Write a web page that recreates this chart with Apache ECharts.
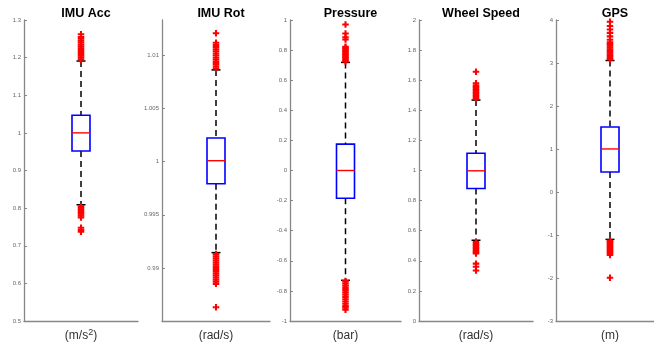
<!DOCTYPE html>
<html>
<head>
<meta charset="utf-8">
<script src="https://cdn.jsdelivr.net/npm/echarts@6/dist/echarts.min.js"></script>
<style>html,body{margin:0;padding:0;background:#fff}#c{width:654px;height:346px}</style>
</head>
<body>
<div id="c"></div>
<script>
// ---- data ----
const titles = ['IMU Acc', 'IMU Rot', 'Pressure', 'Wheel Speed', 'GPS'];
const units = ['(m/s{sup|2})', '(rad/s)', '(bar)', '(rad/s)', '(m)'];
const lowerWhisker = [0.809, 0.99144, -0.7295, 0.5366, -1.102];
const q1 = [0.952, 0.99793, -0.184, 0.880, 0.466];
const median = [1.000, 1.0001, 0.000, 0.998, 1.001];
const q3 = [1.047, 1.00223, 0.175, 1.115, 1.513];
const upperWhisker = [1.191, 1.00865, 0.7184, 1.468, 3.058];

const outliersAcc = [1.195, 1.200, 1.205, 1.210, 1.215, 1.220, 1.225, 1.230, 1.235, 1.240, 1.245, 1.250, 1.255, 1.262,
  0.805, 0.800, 0.795, 0.790, 0.785, 0.780, 0.775, 0.748, 0.742, 0.737];
const outliersRot = [1.0088, 1.0090, 1.0092, 1.0094, 1.0096, 1.0098, 1.0100, 1.0102, 1.0104, 1.0106, 1.0108, 1.0110, 1.0112, 1.0121,
  0.9913, 0.9911, 0.9909, 0.9907, 0.9905, 0.9903, 0.9901, 0.9899, 0.9897, 0.9895, 0.9893, 0.9891, 0.9889, 0.9887, 0.9885, 0.9863];
const outliersPressure = [0.725, 0.735, 0.745, 0.755, 0.765, 0.775, 0.785, 0.795, 0.805, 0.815, 0.822, 0.870, 0.885, 0.910, 0.970,
  -0.735, -0.750, -0.765, -0.780, -0.795, -0.810, -0.825, -0.840, -0.855, -0.870, -0.885, -0.900, -0.912, -0.925];
const outliersWheel = [1.475, 1.485, 1.495, 1.505, 1.515, 1.525, 1.535, 1.545, 1.555, 1.565, 1.579, 1.656,
  0.525, 0.515, 0.505, 0.495, 0.485, 0.475, 0.465, 0.455, 0.448, 0.381, 0.360, 0.335];
const outliersGps = [3.08, 3.12, 3.16, 3.20, 3.24, 3.28, 3.32, 3.36, 3.40, 3.44, 3.48, 3.54, 3.62, 3.70, 3.78, 3.86, 3.96,
  -1.13, -1.16, -1.19, -1.22, -1.25, -1.28, -1.31, -1.34, -1.37, -1.40, -1.43, -1.467, -1.994];
const outliers = [outliersAcc, outliersRot, outliersPressure, outliersWheel, outliersGps];

const yMin = [0.5, 0.985, -1, 0, -3];
const yMax = [1.3, 1.01335, 1, 2, 4];
const ticksAcc = [0.5, 0.6, 0.7, 0.8, 0.9, 1, 1.1, 1.2, 1.3];
const ticksRot = [0.99, 0.995, 1, 1.005, 1.01];
const ticksPressure = [-1, -0.8, -0.6, -0.4, -0.2, 0, 0.2, 0.4, 0.6, 0.8, 1];
const ticksWheel = [0, 0.2, 0.4, 0.6, 0.8, 1, 1.2, 1.4, 1.6, 1.8, 2];
const ticksGps = [-3, -2, -1, 0, 1, 2, 3, 4];
const tickSets = [ticksAcc, ticksRot, ticksPressure, ticksWheel, ticksGps];

// ---- layout ----
const gridLeft = [24, 162, 290, 419, 556];
const gridWidth = [114, 108, 111, 114, 108];

const chart = echarts.init(document.getElementById('c'), null, {renderer: 'canvas'});

const axisGray = '#878787';
const font = 'Liberation Sans, Arial, sans-serif';
const plusPath = 'path://M3.4,0L6.6,0L6.6,3.4L10,3.4L10,6.6L6.6,6.6L6.6,10L3.4,10L3.4,6.6L0,6.6L0,3.4L3.4,3.4Z';

function renderBox(params, api) {
  const x = api.value(0);
  const lo = api.coord([x, api.value(1)]);
  const b1 = api.coord([x, api.value(2)]);
  const md = api.coord([x, api.value(3)]);
  const b3 = api.coord([x, api.value(4)]);
  const hi = api.coord([x, api.value(5)]);
  const cx = lo[0];
  const hw = 9, cw = 4.5;
  const dash = {stroke: '#000', lineWidth: 1.5, lineDash: [6, 4], fill: null};
  const solid = {stroke: '#000', lineWidth: 1.5};
  return {
    type: 'group',
    children: [
      {type: 'line', shape: {x1: cx, y1: hi[1], x2: cx, y2: b3[1]}, style: dash},
      {type: 'line', shape: {x1: cx, y1: b1[1], x2: cx, y2: lo[1]}, style: dash},
      {type: 'line', shape: {x1: cx - cw, y1: hi[1], x2: cx + cw, y2: hi[1]}, style: solid},
      {type: 'line', shape: {x1: cx - cw, y1: lo[1], x2: cx + cw, y2: lo[1]}, style: solid},
      {type: 'rect', shape: {x: cx - hw, y: b3[1], width: 2 * hw, height: b1[1] - b3[1]},
        style: {stroke: '#0000ff', lineWidth: 1.6, fill: null}},
      {type: 'line', shape: {x1: cx - hw, y1: md[1], x2: cx + hw, y2: md[1]},
        style: {stroke: '#ff0000', lineWidth: 1.4}}
    ]
  };
}

const grids = [], xAxes = [], yAxes = [], series = [], titleList = [];
for (let i = 0; i < 5; i++) {
  grids.push({left: gridLeft[i], width: gridWidth[i], top: 20, bottom: 25, containLabel: false, outerBoundsMode: 'none'});
  titleList.push({
    text: titles[i], left: gridLeft[i] + gridWidth[i] / 2, top: 2, textAlign: 'center',
    textStyle: {fontFamily: font, fontSize: 12.5, fontWeight: 'bold', color: '#000'}
  });
  xAxes.push({
    type: 'category', gridIndex: i, data: [units[i]], boundaryGap: true,
    axisLine: {show: true, onZero: false, lineStyle: {color: axisGray, width: 1.3}},
    axisTick: {show: false},
    splitLine: {show: false},
    axisLabel: {
      margin: 6, fontSize: 12, lineHeight: 18, color: '#333', fontFamily: font,
      rich: {sup: {fontSize: 9, lineHeight: 18, padding: [0, 0, 7, 0], color: '#333', fontFamily: font}}
    }
  });
  yAxes.push({
    type: 'value', gridIndex: i, min: yMin[i], max: yMax[i],
    axisLine: {show: true, onZero: false, lineStyle: {color: axisGray, width: 1.3}},
    axisTick: {show: true, inside: true, length: 3, customValues: tickSets[i], lineStyle: {color: axisGray, width: 1}},
    splitLine: {show: false},
    axisLabel: {customValues: tickSets[i], margin: 3, fontSize: 6, color: '#666',
      fontFamily: font, showMinLabel: true, showMaxLabel: true}
  });
  series.push({
    type: 'custom', xAxisIndex: i, yAxisIndex: i, renderItem: renderBox,
    encode: {x: 0, y: [1, 2, 3, 4, 5]},
    data: [[0, lowerWhisker[i], q1[i], median[i], q3[i], upperWhisker[i]]],
    z: 2, silent: true
  });
  series.push({
    type: 'scatter', xAxisIndex: i, yAxisIndex: i,
    symbol: plusPath, symbolSize: 6.5,
    itemStyle: {color: '#ff0000', opacity: 1},
    data: outliers[i].map(v => [0, v]), z: 3, silent: true
  });
}

chart.setOption({
  animation: false,
  backgroundColor: '#fff',
  title: titleList,
  grid: grids,
  xAxis: xAxes,
  yAxis: yAxes,
  series: series
});
</script>
</body>
</html>
